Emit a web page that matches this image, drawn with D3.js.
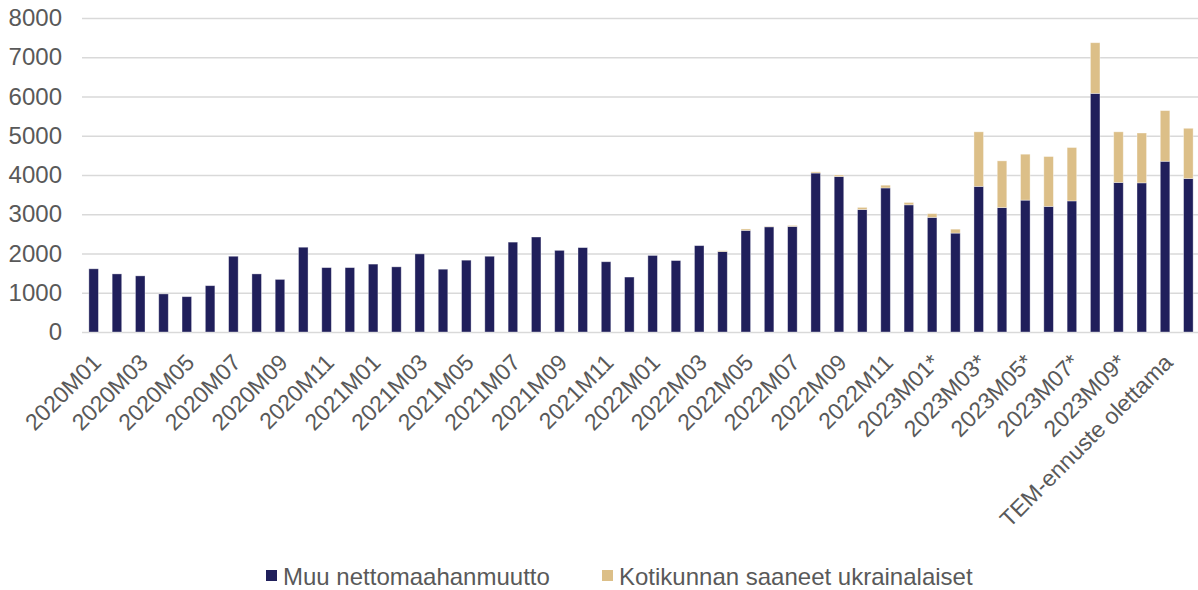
<!DOCTYPE html>
<html>
<head>
<meta charset="utf-8">
<script src="https://cdn.jsdelivr.net/npm/d3@7"></script>
<style>
  body { margin: 0; background: #fff; }
  svg { display: block; font-family: "Liberation Sans", Arial, sans-serif; }
</style>
</head>
<body>
<div id="chart"></div>
<script>
// category labels (every second one is shown on the axis)
var categories = [
  "2020M01","2020M02","2020M03","2020M04","2020M05","2020M06","2020M07","2020M08","2020M09","2020M10","2020M11","2020M12",
  "2021M01","2021M02","2021M03","2021M04","2021M05","2021M06","2021M07","2021M08","2021M09","2021M10","2021M11","2021M12",
  "2022M01","2022M02","2022M03","2022M04","2022M05","2022M06","2022M07","2022M08","2022M09","2022M10","2022M11","2022M12",
  "2023M01*","2023M02*","2023M03*","2023M04*","2023M05*","2023M06*","2023M07*","2023M08*","2023M09*","2023M10*",
  "TEM-ennuste olettama",""
];

var muuValues = [
  1610,1480,1430,970,900,1180,1930,1480,1340,2160,1640,1640,
  1730,1660,1990,1600,1830,1930,2290,2420,2080,2150,1790,1400,
  1950,1820,2200,2050,2590,2680,2690,4050,3960,3120,3670,3240,
  2920,2520,3710,3170,3360,3200,3340,6080,3810,3800,
  4350,3910
];

var ukrValues = [
  0,0,0,0,0,0,0,0,0,0,0,0,
  0,0,0,0,0,0,0,0,0,0,0,0,
  0,0,0,20,35,10,25,30,40,55,70,60,
  95,100,1390,1190,1170,1270,1360,1290,1290,1270,
  1290,1280
];

var seriesNames = ["Muu nettomaahanmuutto", "Kotikunnan saaneet ukrainalaiset"];
var seriesColors = ["#201f5b", "#dcbf88"];
var yTicks = [0,1000,2000,3000,4000,5000,6000,7000,8000];

var outerWidth = 1198, outerHeight = 590;
var margin = { left: 82, top: 18, right: -2, bottom: 258 };
var innerWidth = outerWidth - margin.left - margin.right;
var innerHeight = outerHeight - margin.top - margin.bottom;

var table = categories.map(function (c, i) {
  return { idx: i, label: c, muu: muuValues[i], ukr: ukrValues[i] };
});

var x = d3.scaleBand().domain(d3.range(categories.length))
  .range([0, innerWidth]).paddingInner(0.59).paddingOuter(0.295);
var y = d3.scaleLinear().domain([0, 8000]).range([innerHeight, 0]);

var svg = d3.select("#chart").append("svg")
  .attr("width", outerWidth)
  .attr("height", outerHeight);

var g = svg.append("g")
  .attr("transform", "translate(" + margin.left + "," + margin.top + ")");

// grid
g.append("g")
  .attr("class", "yGrid")
  .call(d3.axisLeft(y).tickValues(yTicks).tickSize(-innerWidth).tickFormat(""))
  .call(function (s) { s.select(".domain").remove(); })
  .selectAll("line")
  .attr("stroke", "#d9d9d9").attr("stroke-width", 1.5);

// y axis labels
g.append("g")
  .attr("class", "yAxis")
  .call(d3.axisLeft(y).tickValues(yTicks).tickSize(0).tickPadding(20).tickFormat(d3.format("d")))
  .call(function (s) { s.select(".domain").remove(); })
  .selectAll("text")
  .attr("fill", "#595959")
  .style("font-size", "24px");

// stacked bars
var stacked = d3.stack().keys(["muu", "ukr"])(table);

g.selectAll("g.series")
  .data(stacked)
  .enter()
  .append("g")
  .attr("class", "series")
  .attr("fill", function (d, i) { return seriesColors[i]; })
  .each(function () {
    d3.select(this).selectAll("rect")
      .data(function (d) { return d; })
      .enter()
      .append("rect")
      .attr("x", function (d) { return x(d.data.idx); })
      .attr("width", x.bandwidth())
      .attr("y", function (d) { return y(d[1]); })
      .attr("height", function (d) { return y(d[0]) - y(d[1]); })
      .attr("stroke", "rgba(255,255,255,0.45)")
      .attr("stroke-width", 0.8);
  });

// x axis labels
var xAxis = g.append("g")
  .attr("class", "xAxis")
  .attr("transform", "translate(0," + innerHeight + ")")
  .call(d3.axisBottom(x).tickSize(0)
    .tickValues(d3.range(0, categories.length, 2))
    .tickFormat(function (i) { return categories[i]; }));
xAxis.select(".domain").remove();
xAxis.selectAll("text")
  .attr("fill", "#595959")
  .style("font-size", "23px")
  .style("text-anchor", "end")
  .attr("dy", null)
  .attr("y", 0)
  .attr("transform", "translate(9,32) rotate(-45)");

// legend
var legend = svg.append("g").attr("class", "legend");
var legendX = [266, 602];
seriesNames.forEach(function (name, i) {
  legend.append("rect")
    .attr("x", legendX[i]).attr("y", 570)
    .attr("width", 11).attr("height", 11)
    .attr("fill", seriesColors[i]);
  legend.append("text")
    .attr("x", legendX[i] + 17).attr("y", 585)
    .attr("fill", "#595959")
    .style("font-size", "24px")
    .text(name);
});
</script>
</body>
</html>
